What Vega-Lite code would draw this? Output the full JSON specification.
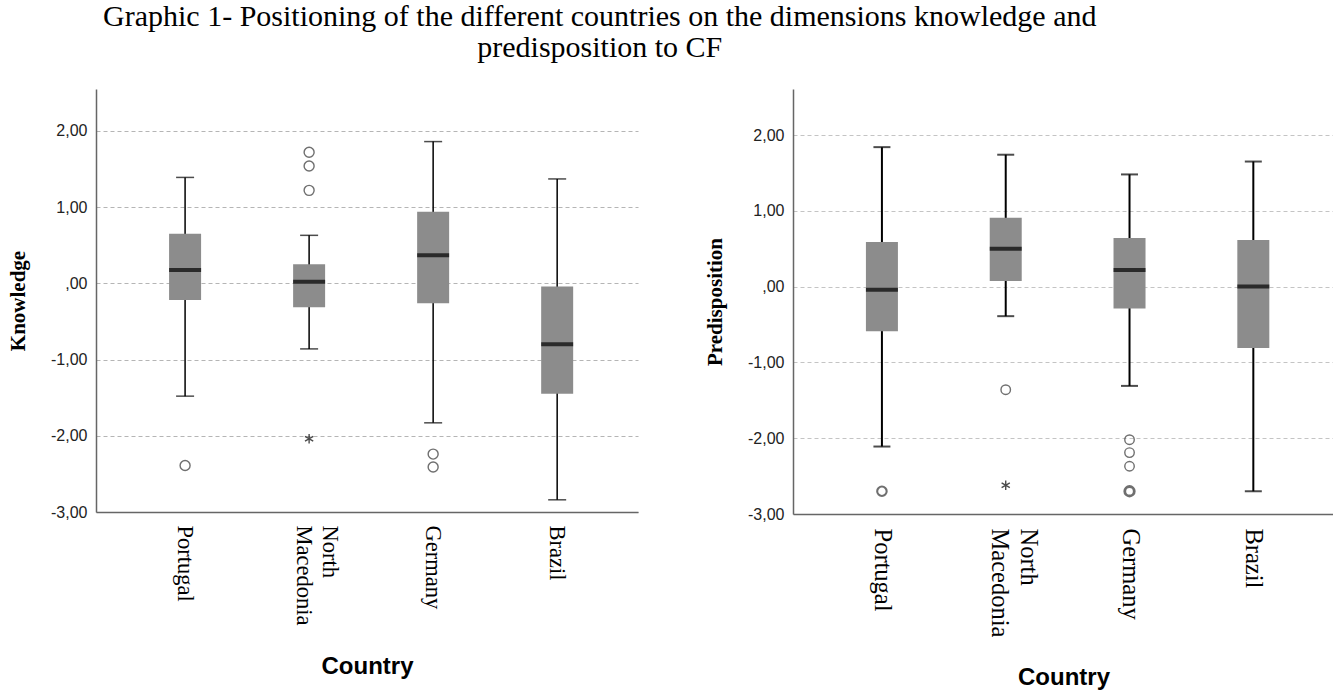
{
  "$schema": "https://vega.github.io/schema/vega-lite/v6.json",
  "background": "white",
  "padding": {"left": 7, "top": 2, "right": 0, "bottom": 0},
  "title": {
    "text": ["Graphic 1- Positioning of the different countries on the dimensions knowledge and", "predisposition to CF"],
    "font": "Liberation Serif", "fontSize": 30, "fontWeight": "normal", "lineHeight": 31,
    "anchor": "middle", "dx": -71, "offset": 26, "color": "black"
  },
  "datasets": {
    "boxes": [
      {"dimension": "Knowledge", "country": "Portugal", "lower": -1.48, "q1": -0.22, "median": 0.175, "q3": 0.65, "upper": 1.39},
      {"dimension": "Knowledge", "country": "North Macedonia", "lower": -0.86, "q1": -0.315, "median": 0.02, "q3": 0.25, "upper": 0.63},
      {"dimension": "Knowledge", "country": "Germany", "lower": -1.83, "q1": -0.26, "median": 0.37, "q3": 0.94, "upper": 1.86},
      {"dimension": "Knowledge", "country": "Brazil", "lower": -2.84, "q1": -1.45, "median": -0.8, "q3": -0.04, "upper": 1.37},
      {"dimension": "Predisposition", "country": "Portugal", "lower": -2.11, "q1": -0.59, "median": -0.04, "q3": 0.59, "upper": 1.84},
      {"dimension": "Predisposition", "country": "North Macedonia", "lower": -0.39, "q1": 0.075, "median": 0.5, "q3": 0.91, "upper": 1.74},
      {"dimension": "Predisposition", "country": "Germany", "lower": -1.31, "q1": -0.29, "median": 0.22, "q3": 0.64, "upper": 1.48},
      {"dimension": "Predisposition", "country": "Brazil", "lower": -2.7, "q1": -0.81, "median": 0.0, "q3": 0.615, "upper": 1.65}
    ],
    "outliers": [
      {"dimension": "Knowledge", "country": "Portugal", "value": -2.39, "kind": "circle"},
      {"dimension": "Knowledge", "country": "North Macedonia", "value": 1.72, "kind": "circle"},
      {"dimension": "Knowledge", "country": "North Macedonia", "value": 1.54, "kind": "circle"},
      {"dimension": "Knowledge", "country": "North Macedonia", "value": 1.22, "kind": "circle"},
      {"dimension": "Knowledge", "country": "North Macedonia", "value": -2.04, "kind": "star"},
      {"dimension": "Knowledge", "country": "Germany", "value": -2.24, "kind": "circle"},
      {"dimension": "Knowledge", "country": "Germany", "value": -2.41, "kind": "circle"},
      {"dimension": "Predisposition", "country": "Portugal", "value": -2.7, "kind": "circle"},
      {"dimension": "Predisposition", "country": "Portugal", "value": -2.7, "kind": "circle"},
      {"dimension": "Predisposition", "country": "North Macedonia", "value": -1.36, "kind": "circle"},
      {"dimension": "Predisposition", "country": "North Macedonia", "value": -2.62, "kind": "star"},
      {"dimension": "Predisposition", "country": "Germany", "value": -2.02, "kind": "circle"},
      {"dimension": "Predisposition", "country": "Germany", "value": -2.19, "kind": "circle"},
      {"dimension": "Predisposition", "country": "Germany", "value": -2.37, "kind": "circle"},
      {"dimension": "Predisposition", "country": "Germany", "value": -2.7, "kind": "circle"},
      {"dimension": "Predisposition", "country": "Germany", "value": -2.7, "kind": "circle"},
      {"dimension": "Predisposition", "country": "Germany", "value": -2.7, "kind": "circle"}
    ]
  },
  "spacing": 66,
  "config": {
    "view": {"stroke": null},
    "axis": {
      "labelColor": "#222222", "domainColor": "#666666", "domainWidth": 1.5, "ticks": false,
      "gridColor": "#b5b5b5", "gridDash": [4, 3], "gridWidth": 1
    },
    "axisY": {
      "grid": true, "labelFont": "Liberation Sans", "labelFontSize": 16, "labelPadding": 9,
      "titleFont": "Liberation Serif", "titleFontWeight": "bold", "titleFontSize": 21, "titleColor": "black", "titlePadding": 22
    },
    "axisX": {
      "grid": false, "labelAngle": 90, "labelAlign": "left", "labelBaseline": "middle",
      "labelFont": "Liberation Serif", "labelColor": "black",
      "labelOverlap": false,
      "titleFont": "Liberation Sans", "titleFontSize": 24, "titleFontWeight": "bold", "titleColor": "black"
    }
  },
  "hconcat": [
    {
      "width": 542, "height": 423,
      "encoding": {
        "x": {
          "field": "country", "type": "nominal", "title": "Country",
          "sort": ["Portugal", "North Macedonia", "Germany", "Brazil"],
          "scale": {"type": "band", "domain": ["Portugal", "North Macedonia", "Germany", "Brazil"], "paddingInner": 0, "paddingOuter": 0.185, "align": 0.59},
          "axis": {
            "labelFontSize": 22.5, "labelLineHeight": 26, "labelPadding": 13, "titlePadding": 30,
            "labelOffset": {"condition": {"test": "datum.value == 'North Macedonia'", "value": 21}, "value": 0},
            "labelExpr": "datum.label == 'North Macedonia' ? ['North', 'Macedonia'] : datum.label"
          }
        }
      },
      "layer": [
        {
          "data": {"name": "boxes"},
          "transform": [{"filter": "datum.dimension == 'Knowledge'"}],
          "mark": {"type": "rule", "color": "black", "strokeWidth": 1.5},
          "encoding": {
            "y": {"field": "lower", "type": "quantitative", "title": "Knowledge",
              "scale": {"domain": [-3, 2.55], "nice": false, "zero": false},
              "axis": {"values": [-3, -2, -1, 0, 1, 2], "labelExpr": "datum.value == 0 ? ',00' : (datum.value < 0 ? '-' : '') + replace(format(abs(datum.value), '.2f'), '.', ',')"}},
            "y2": {"field": "upper"}
          }
        },
        {
          "data": {"name": "boxes"},
          "transform": [{"filter": "datum.dimension == 'Knowledge'"}],
          "mark": {"type": "tick", "color": "black", "size": 18, "thickness": 1.5},
          "encoding": {"y": {"field": "lower", "type": "quantitative", "title": "Knowledge"}}
        },
        {
          "data": {"name": "boxes"},
          "transform": [{"filter": "datum.dimension == 'Knowledge'"}],
          "mark": {"type": "tick", "color": "black", "size": 18, "thickness": 1.5},
          "encoding": {"y": {"field": "upper", "type": "quantitative", "title": "Knowledge"}}
        },
        {
          "data": {"name": "boxes"},
          "transform": [{"filter": "datum.dimension == 'Knowledge'"}],
          "mark": {"type": "bar", "color": "#8c8c8c", "size": 32},
          "encoding": {"y": {"field": "q1", "type": "quantitative", "title": "Knowledge"}, "y2": {"field": "q3"}}
        },
        {
          "data": {"name": "boxes"},
          "transform": [{"filter": "datum.dimension == 'Knowledge'"}],
          "mark": {"type": "tick", "color": "black", "size": 32, "thickness": 4},
          "encoding": {"y": {"field": "median", "type": "quantitative", "title": "Knowledge"}}
        },
        {
          "data": {"name": "outliers"},
          "transform": [
            {"filter": "datum.dimension == 'Knowledge' && datum.kind == 'circle'"},
            {"aggregate": [{"op": "count", "as": "n"}], "groupby": ["country", "value"]}
          ],
          "mark": {"type": "point", "shape": "circle", "filled": false, "stroke": "#333333", "size": 100},
          "encoding": {
            "y": {"field": "value", "type": "quantitative", "title": "Knowledge"},
            "strokeWidth": {"field": "n", "type": "quantitative", "scale": {"domain": [1, 3], "range": [1.4, 2.8]}, "legend": null}
          }
        },
        {
          "data": {"name": "outliers"},
          "transform": [{"filter": "datum.dimension == 'Knowledge' && datum.kind == 'star'"}],
          "mark": {"type": "point", "shape": "M0,-1L0,1M-0.866,-0.5L0.866,0.5M-0.866,0.5L0.866,-0.5", "filled": false, "stroke": "black", "strokeWidth": 1.4, "size": 90},
          "encoding": {"y": {"field": "value", "type": "quantitative", "title": "Knowledge"}}
        }
      ]
    },
    {
      "width": 541, "height": 425,
      "encoding": {
        "x": {
          "field": "country", "type": "nominal", "title": "Country",
          "sort": ["Portugal", "North Macedonia", "Germany", "Brazil"],
          "scale": {"type": "band", "domain": ["Portugal", "North Macedonia", "Germany", "Brazil"], "paddingInner": 0, "paddingOuter": 0.185, "align": 0.59},
          "axis": {
            "labelFontSize": 24.5, "labelLineHeight": 29, "labelPadding": 14, "titlePadding": 29,
            "labelOffset": {"condition": {"test": "datum.value == 'North Macedonia'", "value": 22}, "value": 0},
            "labelExpr": "datum.label == 'North Macedonia' ? ['North', 'Macedonia'] : datum.label"
          }
        }
      },
      "layer": [
        {
          "data": {"name": "boxes"},
          "transform": [{"filter": "datum.dimension == 'Predisposition'"}],
          "mark": {"type": "rule", "color": "black", "strokeWidth": 2},
          "encoding": {
            "y": {"field": "lower", "type": "quantitative", "title": "Predisposition",
              "scale": {"domain": [-3, 2.607], "nice": false, "zero": false},
              "axis": {"values": [-3, -2, -1, 0, 1, 2], "gridColor": "#c4c4c4", "labelExpr": "datum.value == 0 ? ',00' : (datum.value < 0 ? '-' : '') + replace(format(abs(datum.value), '.2f'), '.', ',')"}},
            "y2": {"field": "upper"}
          }
        },
        {
          "data": {"name": "boxes"},
          "transform": [{"filter": "datum.dimension == 'Predisposition'"}],
          "mark": {"type": "tick", "color": "black", "size": 17, "thickness": 2},
          "encoding": {"y": {"field": "lower", "type": "quantitative", "title": "Predisposition"}}
        },
        {
          "data": {"name": "boxes"},
          "transform": [{"filter": "datum.dimension == 'Predisposition'"}],
          "mark": {"type": "tick", "color": "black", "size": 17, "thickness": 2},
          "encoding": {"y": {"field": "upper", "type": "quantitative", "title": "Predisposition"}}
        },
        {
          "data": {"name": "boxes"},
          "transform": [{"filter": "datum.dimension == 'Predisposition'"}],
          "mark": {"type": "bar", "color": "#8c8c8c", "size": 32},
          "encoding": {"y": {"field": "q1", "type": "quantitative", "title": "Predisposition"}, "y2": {"field": "q3"}}
        },
        {
          "data": {"name": "boxes"},
          "transform": [{"filter": "datum.dimension == 'Predisposition'"}],
          "mark": {"type": "tick", "color": "black", "size": 32, "thickness": 4},
          "encoding": {"y": {"field": "median", "type": "quantitative", "title": "Predisposition"}}
        },
        {
          "data": {"name": "outliers"},
          "transform": [
            {"filter": "datum.dimension == 'Predisposition' && datum.kind == 'circle'"},
            {"aggregate": [{"op": "count", "as": "n"}], "groupby": ["country", "value"]}
          ],
          "mark": {"type": "point", "shape": "circle", "filled": false, "stroke": "#333333", "size": 90},
          "encoding": {
            "y": {"field": "value", "type": "quantitative", "title": "Predisposition"},
            "strokeWidth": {"field": "n", "type": "quantitative", "scale": {"domain": [1, 3], "range": [1.4, 2.8]}, "legend": null}
          }
        },
        {
          "data": {"name": "outliers"},
          "transform": [{"filter": "datum.dimension == 'Predisposition' && datum.kind == 'star'"}],
          "mark": {"type": "point", "shape": "M0,-1L0,1M-0.866,-0.5L0.866,0.5M-0.866,0.5L0.866,-0.5", "filled": false, "stroke": "black", "strokeWidth": 1.4, "size": 90},
          "encoding": {"y": {"field": "value", "type": "quantitative", "title": "Predisposition"}}
        }
      ]
    }
  ]
}
